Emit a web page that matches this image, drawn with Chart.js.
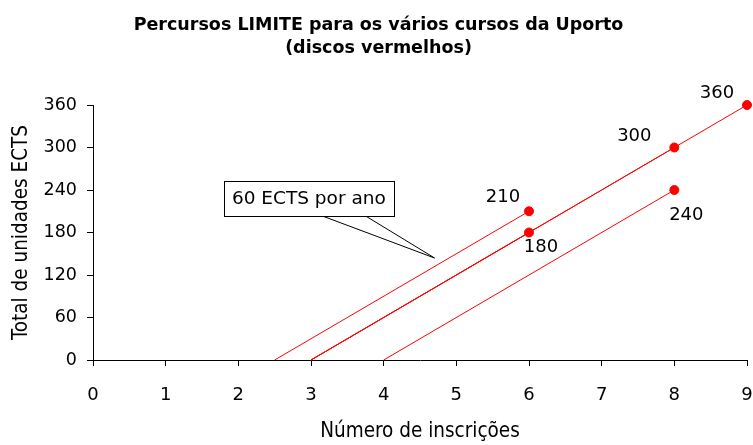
<!DOCTYPE html>
<html>
<head>
<meta charset="utf-8">
<script src="https://cdn.jsdelivr.net/npm/chart.js@4/dist/chart.umd.min.js"></script>
<style>
  html, body { margin: 0; padding: 0; background: #fff; }
  #wrap { width: 753px; height: 445px; }
</style>
</head>
<body>
<div id="wrap"><canvas id="ectsChart"></canvas></div>
<script>
// Data
const inscricoes = [6, 6, 8, 8, 9];           // end of each path (x)
const ectsTotal = [210, 180, 300, 240, 360];   // ECTS reached at that point
const inicioInscricoes = [2.5, 3, 3, 4, 3];    // where each path starts at 0 ECTS
const xTicks = [0, 1, 2, 3, 4, 5, 6, 7, 8, 9];
const yTicks = [0, 60, 120, 180, 240, 300, 360];

const FONT = 'Tahoma, "DejaVu Sans", sans-serif';
const FONT_NARROW = 'Tahoma, "DejaVu Sans Condensed", "DejaVu Sans", sans-serif';
const RED = '#ff0000';

// pixel offset of each value label from its disc
const labelOffset = [[-26, -14], [12, 15], [-40, -11], [12, 25], [-30, -12]];

// Build one line dataset per path, plus the discs
const datasets = inscricoes.map((x, i) => ({
    data: [{ x: inicioInscricoes[i], y: 0 }, { x: x, y: ectsTotal[i] }],
    showLine: true,
    borderColor: RED,
    borderWidth: 1,
    pointRadius: 0,
    clip: false,
}));
datasets.push({
    data: inscricoes.map((x, i) => ({ x: x, y: ectsTotal[i] })),
    showLine: false,
    pointRadius: 4.5,
    pointBackgroundColor: RED,
    pointBorderColor: RED,
    clip: false,
});

// Callout box ("60 ECTS por ano") in data units
const callout = { text: '60 ECTS por ano', x0: 1.8, x1: 4.14, y0: 203, y1: 253, base: [3.165, 3.757], tip: { x: 4.7, y: 144 } };

const extrasPlugin = {
    id: 'extras',
    afterDraw(chart) {
        const ctx = chart.ctx;
        const xs = chart.scales.x, ys = chart.scales.y;
        ctx.save();

        // title
        ctx.fillStyle = '#000';
        ctx.font = 'bold 17.5px ' + FONT;
        ctx.textAlign = 'center';
        ctx.textBaseline = 'alphabetic';
        const cx = chart.width / 2 + 2;
        ctx.fillText('Percursos LIMITE para os vários cursos da Uporto', cx, 30);
        ctx.fillText('(discos vermelhos)', cx, 53);

        // value labels next to the discs
        ctx.textBaseline = 'middle';
        ctx.font = '18px ' + FONT;
        inscricoes.forEach((x, i) => {
            const px = xs.getPixelForValue(x), py = ys.getPixelForValue(ectsTotal[i]);
            ctx.fillText(String(ectsTotal[i]), px + labelOffset[i][0], py + labelOffset[i][1]);
        });

        // callout
        const bx0 = xs.getPixelForValue(callout.x0), bx1 = xs.getPixelForValue(callout.x1);
        const by0 = ys.getPixelForValue(callout.y1), by1 = ys.getPixelForValue(callout.y0);
        const tx = xs.getPixelForValue(callout.tip.x), ty = ys.getPixelForValue(callout.tip.y);
        ctx.strokeStyle = '#000';
        ctx.lineWidth = 1;
        ctx.beginPath();
        callout.base.forEach(b => {
            ctx.moveTo(xs.getPixelForValue(b), by1);
            ctx.lineTo(tx, ty);
        });
        ctx.stroke();
        ctx.fillStyle = '#fff';
        ctx.fillRect(bx0, by0, bx1 - bx0, by1 - by0);
        ctx.strokeRect(Math.round(bx0) + 0.5, Math.round(by0) + 0.5, Math.round(bx1 - bx0), Math.round(by1 - by0));
        ctx.fillStyle = '#000';
        ctx.font = '18.5px ' + FONT;
        ctx.fillText(callout.text, (bx0 + bx1) / 2, (by0 + by1) / 2 + 1);
        ctx.restore();
    }
};

const ctx = document.getElementById('ectsChart').getContext('2d');
new Chart(ctx, {
    type: 'scatter',
    data: { datasets: datasets },
    plugins: [extrasPlugin],
    options: {
        responsive: true,
        maintainAspectRatio: false,
        animation: false,
        layout: { padding: { top: 105, right: 6, left: 0, bottom: 0 } },
        plugins: {
            legend: { display: false },
            tooltip: { enabled: false },
            title: { display: false },
        },
        scales: {
            x: {
                type: 'linear',
                min: 0,
                max: 9,
                afterBuildTicks: axis => { axis.ticks = xTicks.map(v => ({ value: v })); },
                afterFit: axis => {
                    axis.height = 85;
                    // tick padding would otherwise eat into the right side
                    axis.paddingLeft = 0;
                    axis.paddingRight = 0;
                },
                grid: { drawOnChartArea: false, tickLength: 6, color: '#000' },
                border: { color: '#000' },
                ticks: { color: '#000', font: { family: FONT, size: 18 }, padding: 19 },
                title: {
                    display: true,
                    text: 'Número de inscrições',
                    color: '#000',
                    font: { family: FONT_NARROW, size: 20.5 },
                    padding: { top: 0, bottom: 1 },
                },
            },
            y: {
                type: 'linear',
                min: 0,
                max: 360,
                afterBuildTicks: axis => { axis.ticks = yTicks.map(v => ({ value: v })); },
                afterFit: axis => { axis.width = 93; },
                grid: { drawOnChartArea: false, tickLength: 6, color: '#000' },
                border: { color: '#000' },
                ticks: { color: '#000', font: { family: FONT, size: 17.5 }, padding: 10 },
                title: {
                    display: true,
                    text: 'Total de unidades ECTS',
                    color: '#000',
                    font: { family: FONT_NARROW, size: 20.5 },
                    padding: { top: 9, bottom: 0 },
                },
            },
        },
    },
});
</script>
</body>
</html>
